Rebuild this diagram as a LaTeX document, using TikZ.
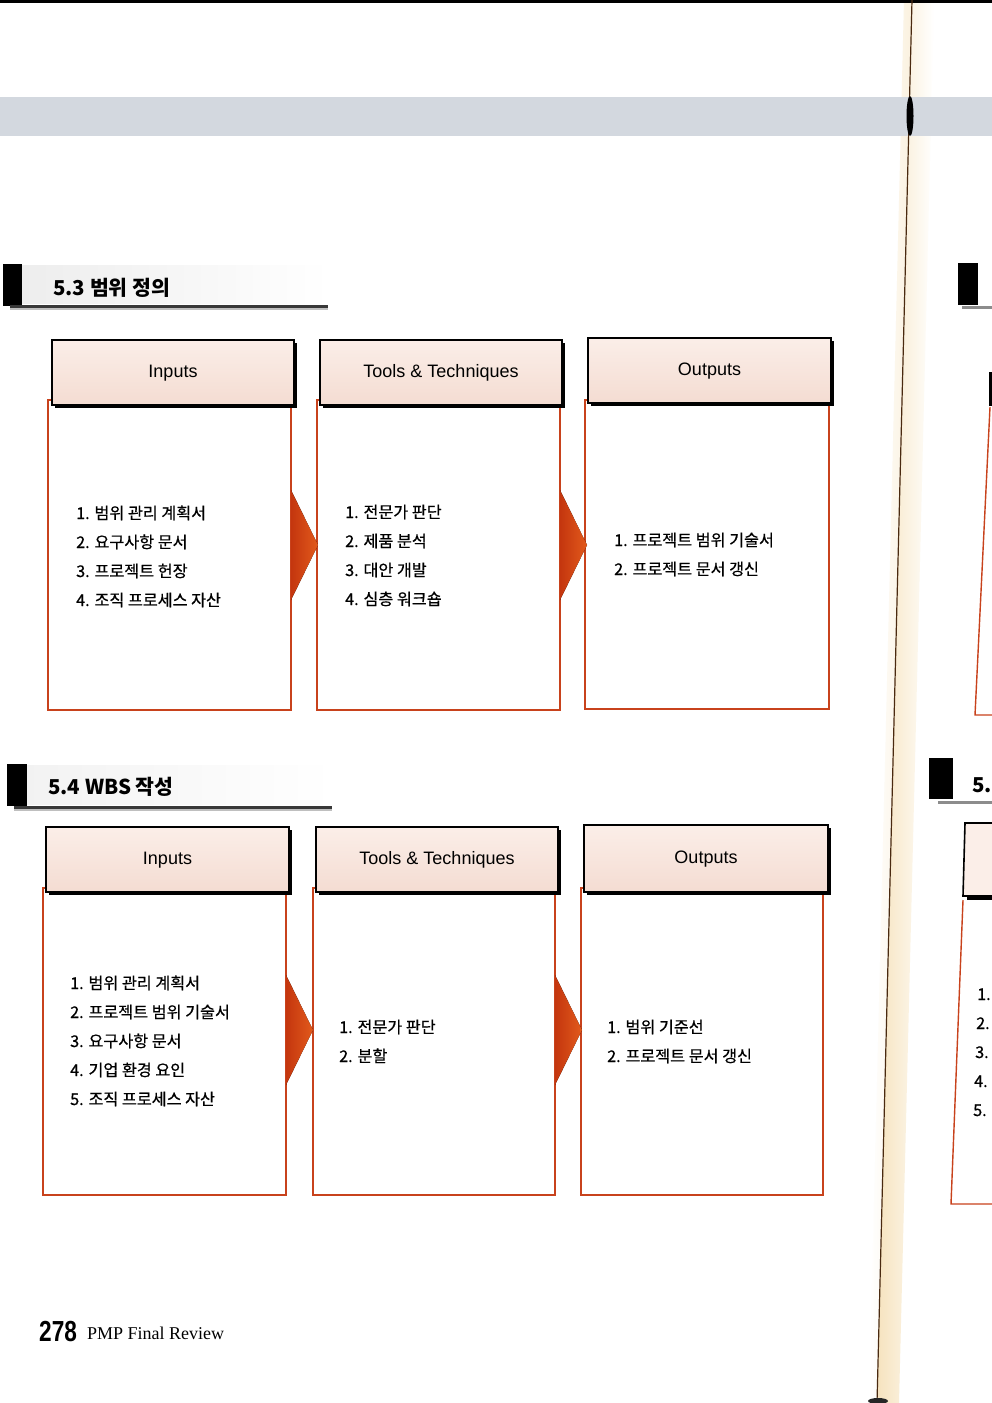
\documentclass[tikz,border=0pt]{standalone}
\usepackage{fontspec}
\setmainfont{Liberation Sans}
\newfontfamily\krfont[FakeBold=0.6]{Noto Sans CJK KR}
\newfontfamily\krtitle{Noto Sans CJK KR}
\newfontfamily\serifrm{Liberation Serif}
\newfontfamily\pagenumfont[FakeStretch=0.78]{Liberation Sans}
\usetikzlibrary{calc,shadows}

\definecolor{redline}{HTML}{C8421C}
\definecolor{hdrtop}{HTML}{FBEEE8}
\definecolor{hdrbot}{HTML}{F4DCD2}
\definecolor{arrowdark}{HTML}{C4360E}
\definecolor{arrowlight}{HTML}{E25A1C}
\definecolor{bandgray}{HTML}{D3D8DF}
\definecolor{cream}{HTML}{F6E3BE}
\definecolor{gutter}{HTML}{4A2A10}

\tikzset{
  hdr/.style={draw=black, line width=1.6pt, top color=hdrtop, bottom color=hdrbot,
    minimum height=65pt, inner sep=0pt, outer sep=0pt, anchor=north west,
    font=\fontsize{18}{20}\selectfont, text height=1.15em, text depth=0.2em,
    drop shadow={fill=black, opacity=1, shadow xshift=3pt, shadow yshift=-3pt}},
  body/.style={draw=redline, line width=1.4pt, inner sep=0pt, outer sep=0pt,
    anchor=north west},
  item/.style={anchor=base west, inner sep=0pt, font=\krfont\fontsize{16.2}{18}\selectfont},
  sectitle/.style={anchor=base west, inner sep=0pt, font=\krtitle\bfseries\fontsize{20.5}{24}\selectfont},
  flowarrow/.style={left color=arrowdark, right color=arrowlight},
  marker/.style={fill=black},
  rule/.style={fill=black!78},
}

\begin{document}
\begin{tikzpicture}[x=1pt,y=-1pt]
\useasboundingbox (0,0) rectangle (992,1403);
\fill[white] (0,0) rectangle (992,1403);

% binding gutter shading
\shade[left color=cream, right color=white] (912,0) -- (934,0) -- (899,1403) -- (877,1403) -- cycle;
\shade[left color=white, right color=cream!50] (904,0) -- (912,0) -- (877,1403) -- (869,1403) -- cycle;

% page top edge and grey running band
\fill[black] (0,0) rectangle (992,2.5);
\fill[bandgray] (0,97) rectangle (992,136);

% binding line
\draw[gutter, line width=1.2pt] (912,0) -- (877,1403);
\fill[black] (910,116) ellipse (3.5 and 20);
\fill[black!85] (878,1401) ellipse (10 and 3);

% ---------- 5.3 ----------
\shade[left color=black!7, right color=white] (22,265) rectangle (330,303);
\fill[marker] (3,264) rectangle (22,306);
\fill[black!25] (10,306) rectangle (328,310);
\fill[rule] (10,305) rectangle (328,307.5);
\node[sectitle] (t53) at (53,295) {5.3 범위 정의};

\node[body, minimum width=243pt, minimum height=310pt] (bA1) at (48,400) {};
\node[body, minimum width=243pt, minimum height=310pt] (bB1) at (317,400) {};
\node[body, minimum width=244pt, minimum height=309pt] (bC1) at (585,400) {};

\node[hdr, minimum width=242pt] (hA1) at (52,340) {Inputs};
\node[hdr, minimum width=242pt] (hB1) at (320,340) {Tools \& Techniques};
\node[hdr, minimum width=243pt] (hC1) at (588,338) {Outputs};

\fill[flowarrow] ($(bA1.north east)+(0,90)$) -- ($(bB1.north west)+(1,145)$) -- ($(bA1.north east)+(0,200)$) -- cycle;
\fill[flowarrow] ($(bB1.north east)+(0,90)$) -- ($(bC1.north west)+(2,145)$) -- ($(bB1.north east)+(0,200)$) -- cycle;

\foreach \t [count=\i] in {범위 관리 계획서, 요구사항 문서, 프로젝트 헌장, 조직 프로세스 자산}
  \node[item] (iA1-\i) at (76,{519+29*(\i-1)}) {\i. \t};
\foreach \t [count=\i] in {전문가 판단, 제품 분석, 대안 개발, 심층 워크숍}
  \node[item] (iB1-\i) at (345,{518+29*(\i-1)}) {\i. \t};
\foreach \t [count=\i] in {프로젝트 범위 기술서, 프로젝트 문서 갱신}
  \node[item] (iC1-\i) at (614,{546+29*(\i-1)}) {\i. \t};

% ---------- 5.4 ----------
\shade[left color=black!5, right color=white] (27,765) rectangle (334,804);
\fill[marker] (7,764) rectangle (27,806);
\fill[black!25] (14,807) rectangle (332,811);
\fill[rule] (14,806) rectangle (332,808.5);
\node[sectitle] (t54) at (48,794) {5.4 WBS 작성};

\node[body, minimum width=243pt, minimum height=307pt] (bA2) at (43,888) {};
\node[body, minimum width=242pt, minimum height=307pt] (bB2) at (313,888) {};
\node[body, minimum width=242pt, minimum height=307pt] (bC2) at (581,888) {};

\node[hdr, minimum width=243pt] (hA2) at (46,827) {Inputs};
\node[hdr, minimum width=242pt] (hB2) at (316,827) {Tools \& Techniques};
\node[hdr, minimum width=244pt, minimum height=67pt] (hC2) at (584,825) {Outputs};

\fill[flowarrow] ($(bA2.north east)+(0,87)$) -- ($(bB2.north west)+(0,142)$) -- ($(bA2.north east)+(0,197)$) -- cycle;
\fill[flowarrow] ($(bB2.north east)+(0,87)$) -- ($(bC2.north west)+(1,142)$) -- ($(bB2.north east)+(0,197)$) -- cycle;

\foreach \t [count=\i] in {범위 관리 계획서, 프로젝트 범위 기술서, 요구사항 문서, 기업 환경 요인, 조직 프로세스 자산}
  \node[item] (iA2-\i) at (70,{989+29*(\i-1)}) {\i. \t};
\foreach \t [count=\i] in {전문가 판단, 분할}
  \node[item] (iB2-\i) at (339,{1033+29*(\i-1)}) {\i. \t};
\foreach \t [count=\i] in {범위 기준선, 프로젝트 문서 갱신}
  \node[item] (iC2-\i) at (607,{1033+29*(\i-1)}) {\i. \t};

% ---------- facing page, cut at the edge ----------
\begin{scope}
\clip (0,0) rectangle (992,1403);
\fill[marker] (958,263) rectangle (978,305);
\fill[black!45] (962,306) rectangle (995,309);
\fill[black] (989,372) rectangle (995,406);
\draw[redline, line width=1.4pt] (990,407) -- (975,715) -- (995,715);

\fill[marker] (929,758) rectangle (953,799);
\fill[black!45] (938,801) rectangle (995,804);
\node[sectitle] (t5x) at (972,792) {5.};
\fill[black] (967,826) rectangle (998,900);
\filldraw[fill=hdrtop, draw=black, line width=1.6pt] (965,823) -- (998,823) -- (998,896) -- (963,896) -- cycle;
\draw[redline, line width=1.4pt] (963,900) -- (951,1204) -- (995,1204);
\foreach \n/\xx [count=\i] in {1/977,2/976,3/975,4/974,5/973}
  \node[item] (iR-\i) at (\xx,{1000+29*(\i-1)}) {\n.};
\end{scope}

% footer
\node[anchor=base west, inner sep=0pt, font=\pagenumfont\bfseries\fontsize{29}{30}\selectfont] (pnum) at (39,1341) {278};
\node[anchor=base west, inner sep=0pt, font=\serifrm\fontsize{18}{20}\selectfont] (ptitle) at (87,1339) {PMP Final Review};
\end{tikzpicture}
\end{document}
